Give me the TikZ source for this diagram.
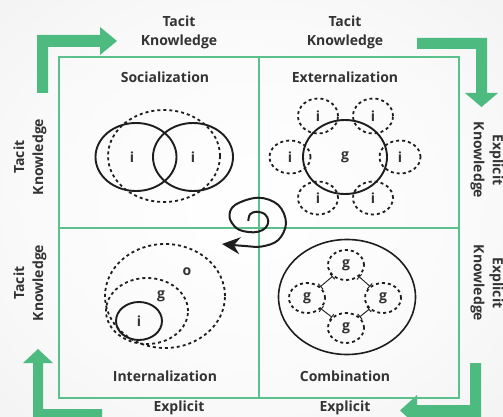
\documentclass[tikz,border=0pt]{standalone}
\usepackage{fontspec}
\setmainfont{Open Sans}
\usetikzlibrary{shapes.geometric,arrows.meta}
\definecolor{grn}{HTML}{4DBB80}
\definecolor{frm}{HTML}{5CC08C}
\definecolor{txt}{HTML}{333333}
\definecolor{ink}{HTML}{1E1E1E}
\pgfdeclareradialshading{vign}{\pgfpoint{0bp}{0bp}}{color(0bp)=(white); color(22bp)=(black!2); color(38bp)=(black!5); color(50bp)=(black!10); color(72bp)=(black!13)}
\begin{document}
\begin{tikzpicture}[x=1pt,y=-1pt,
  ttl/.style={font=\bfseries\fontsize{14}{17}\selectfont, text=txt},
  side/.style={align=center, font=\bfseries\fontsize{14}{19}\selectfont, text=txt},
  lbl/.style={font=\bfseries\fontsize{14}{16}\selectfont, text=txt, inner sep=0},
  solidc/.style={ellipse, draw=ink, line width=1.9pt, inner sep=0, text=txt, font=\bfseries\fontsize{14}{16}\selectfont},
  dashc/.style={ellipse, draw=ink, line width=1.8pt, dash pattern=on 3pt off 3pt, inner sep=0, text=txt, font=\bfseries\fontsize{14}{16}\selectfont},
  conn/.style={draw=ink, line width=0.9pt, {Bar[width=7pt]}-{Bar[width=7pt]}},
  spiral/.style={draw=ink, line width=2pt, -{Stealth[length=18pt,width=17pt,inset=6pt]}},
  garrow/.style={fill=grn, draw=none}
]
\useasboundingbox (0,0) rectangle (503,417);
\shade[shading=vign] (0,0) rectangle (503,417);

% green arrows
\fill[garrow] (37,93) -- (37,35) -- (100,35) -- (100,27) -- (117,41) -- (100,55) -- (100,47) -- (48,47) -- (48,93) -- cycle;
\fill[garrow] (417,38) -- (487,38) -- (487,93) -- (498,93) -- (481.5,107) -- (465,93) -- (476,93) -- (476,49) -- (417,49) -- cycle;
\fill[garrow] (470,363) -- (481,363) -- (481,417) -- (417,417) -- (417,426) -- (400,410.5) -- (417,395) -- (417,405) -- (470,405) -- cycle;
\fill[garrow] (33,420) -- (33,363) -- (23,363) -- (38,349) -- (53,363) -- (43,363) -- (43,409) -- (102,409) -- (102,420) -- cycle;

% frame
\draw[frm, line width=1.2pt] (59,57) rectangle (459,398);
\draw[frm, line width=1.2pt] (259,57) -- (259,398);
\draw[frm, line width=1.2pt] (59,228) -- (459,228);

% outer labels
\node[side] (tk1) at (179,32) {Tacit\\Knowledge};
\node[side] (tk2) at (345,32) {Tacit\\Knowledge};
\node[side, rotate=90] (tk3) at (30,157) {Tacit\\Knowledge};
\node[side, rotate=90] (tk4) at (30,283) {Tacit\\Knowledge};
\node[side, rotate=-90] (ek1) at (487,160) {Explicit\\Knowledge};
\node[side, rotate=-90] (ek2) at (487,283) {Explicit\\Knowledge};
\node[side] (ex1) at (179,408) {Explicit};
\node[side] (ex2) at (345,408) {Explicit};

% titles
\node[ttl] (soc) at (165,77) {Socialization};
\node[ttl] (ext) at (345,77) {Externalization};
\node[ttl] (int) at (165,376) {Internalization};
\node[ttl] (com) at (345,376) {Combination};

% Socialization
\node[dashc, minimum width=112pt, minimum height=92pt] (sd) at (164,156) {};
\node[solidc, minimum width=81pt, minimum height=68pt] (s1) at (136,157) {};
\node[solidc, minimum width=80pt, minimum height=68pt] (s2) at (193,157) {};
\node[lbl] (si1) at (132,157) {i};
\node[lbl] (si2) at (193,157) {i};

% Externalization
\node[dashc, minimum width=40pt, minimum height=35pt] (e1) at (318,116) {i};
\node[dashc, minimum width=40pt, minimum height=35pt] (e2) at (373,116) {i};
\node[dashc, minimum width=41pt, minimum height=33pt] (e3) at (290,157) {i};
\node[dashc, minimum width=41pt, minimum height=33pt] (e4) at (400,157) {i};
\node[dashc, minimum width=40pt, minimum height=33pt] (e5) at (318,198) {i};
\node[dashc, minimum width=40pt, minimum height=33pt] (e6) at (373,198) {i};
\node[solidc, minimum width=84pt, minimum height=74pt] (eg) at (345,157) {g};

% Internalization
\node[dashc, minimum width=120pt, minimum height=104pt] (io) at (165,296) {};
\node[dashc, minimum width=82pt, minimum height=66pt] (ig) at (147,311) {};
\node[solidc, minimum width=46pt, minimum height=38pt] (ii) at (139,321) {i};
\node[lbl] (iol) at (187,272) {o};
\node[lbl] (igl) at (161,296) {g};

% Combination
\node[solidc, line width=1.6pt, minimum width=137pt, minimum height=115pt] (cb) at (347,297) {};
\node[dashc, minimum width=36pt, minimum height=30pt] (ct) at (346,265) {g};
\node[dashc, minimum width=36pt, minimum height=30pt] (cl) at (307,298) {g};
\node[dashc, minimum width=36pt, minimum height=30pt] (cr) at (383,298) {g};
\node[dashc, minimum width=36pt, minimum height=30pt] (cbm) at (346,328) {g};
\draw[conn] (cl) -- (ct);
\draw[conn] (ct) -- (cr);
\draw[conn] (cr) -- (cbm);
\draw[conn] (cbm) -- (cl);

% spiral
\draw[spiral] plot[smooth, tension=0.6] coordinates {(248.3,221) (250,214.3) (256.7,211.7) (265,214.3) (268.3,221) (265.7,227.7) (258.3,231.7) (248.3,232) (236.7,228.3) (229.5,217) (235,205) (258.3,197.7) (278.3,205) (286,223) (278.3,240) (261.7,246.5) (245,246) (222,244)};
\end{tikzpicture}
\end{document}
